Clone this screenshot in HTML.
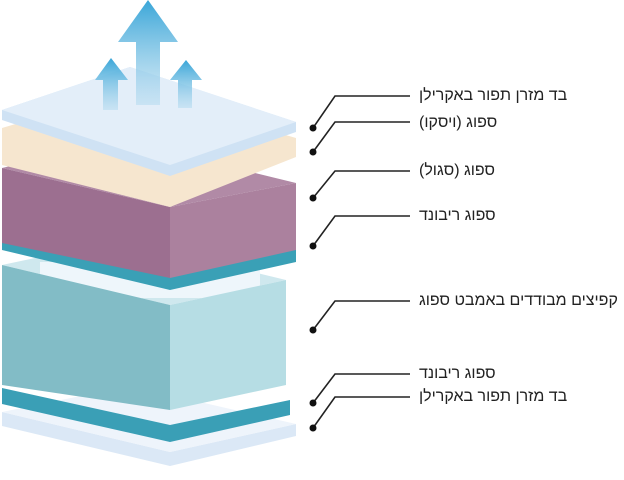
<!DOCTYPE html>
<html lang="he"><head><meta charset="utf-8"><style>
body{margin:0;width:624px;height:480px;background:#fff;position:relative;overflow:hidden}
.t{position:absolute;left:419px;font-family:"Liberation Sans","Noto Sans CJK SC",sans-serif;font-size:16px;color:#222;direction:rtl;unicode-bidi:embed;white-space:nowrap;line-height:20px;text-align:right}
</style></head><body>
<svg width="624" height="480" style="position:absolute;left:0;top:0">
<defs>
<linearGradient id="ar" x1="0" y1="0" x2="0" y2="1"><stop offset="0" stop-color="#3aa6d8"/><stop offset="1" stop-color="#b8dcf0" stop-opacity="0.6"/></linearGradient>
</defs>
<polygon points="2,412 170,452 296,424 296,436 170,466 2,426" fill="#dbe8f6"/>
<polygon points="2,412 130,386 296,424 170,452" fill="#eef4fb"/>
<polygon points="2,388 170,425 290,400 290,415 170,442 2,404" fill="#3a9fb6"/>
<polygon points="2,265 120,240 286,280 170,305" fill="#cfe8ee"/>
<rect x="40" y="262" width="220" height="36" fill="#eef6fb"/>
<polygon points="2,265 170,305 170,410 2,385" fill="#82bcc6"/>
<polygon points="170,305 286,280 286,385 170,410" fill="#b6dde4"/>
<polygon points="2,228 170,268 296,245 296,262 170,290 2,250" fill="#3aa0b6"/>
<polygon points="2,168 120,140 296,183 170,207" fill="#b18aa6"/>
<polygon points="2,168 170,207 170,278 2,243" fill="#9c6f90"/>
<polygon points="170,207 296,183 296,250 170,278" fill="#ab819e"/>
<polygon points="2,128 130,90 296,138 296,157 170,207 2,165" fill="#f6e6cf"/>
<polygon points="2,110 130,67 296,122 296,132 170,176 2,120" fill="#cfe2f4"/>
<polygon points="2,110 130,67 296,122 170,165" fill="#e3eef9"/>
<polygon points="148,0 178,42 160,42 160,105 136,105 136,42 118,42" fill="url(#ar)"/>
<polygon points="111,58 128,80 118,80 118,110 103,110 103,80 95,80" fill="url(#ar)"/>
<polygon points="186,60 202,80 192,80 192,108 178,108 178,80 170,80" fill="url(#ar)"/>
<g stroke="#222" stroke-width="1.6" fill="none">
<polyline points="313,128 335,96 410,96"/>
<polyline points="313,152 335,122 410,122"/>
<polyline points="313,198 335,171 410,171"/>
<polyline points="313,246 335,216 410,216"/>
<polyline points="313,330 335,301 410,301"/>
<polyline points="313,403 335,374 410,374"/>
<polyline points="313,428 335,397 410,397"/>
</g>
<g fill="#111">
<circle cx="313" cy="128" r="3.5"/><circle cx="313" cy="152" r="3.5"/><circle cx="313" cy="198" r="3.5"/>
<circle cx="313" cy="246" r="3.5"/><circle cx="313" cy="330" r="3.5"/><circle cx="313" cy="403" r="3.5"/><circle cx="313" cy="428" r="3.5"/>
</g>
</svg>
<div class="t" dir="rtl" style="top:86px">בד מזרן תפור באקרילן</div>
<div class="t" dir="rtl" style="top:113px">ספוג (ויסקו)</div>
<div class="t" dir="rtl" style="top:161px">ספוג (סגול)</div>
<div class="t" dir="rtl" style="top:206px">ספוג ריבונד</div>
<div class="t" dir="rtl" style="top:291px">קפיצים מבודדים באמבט ספוג</div>
<div class="t" dir="rtl" style="top:364px">ספוג ריבונד</div>
<div class="t" dir="rtl" style="top:387px">בד מזרן תפור באקרילן</div>
</body></html>
